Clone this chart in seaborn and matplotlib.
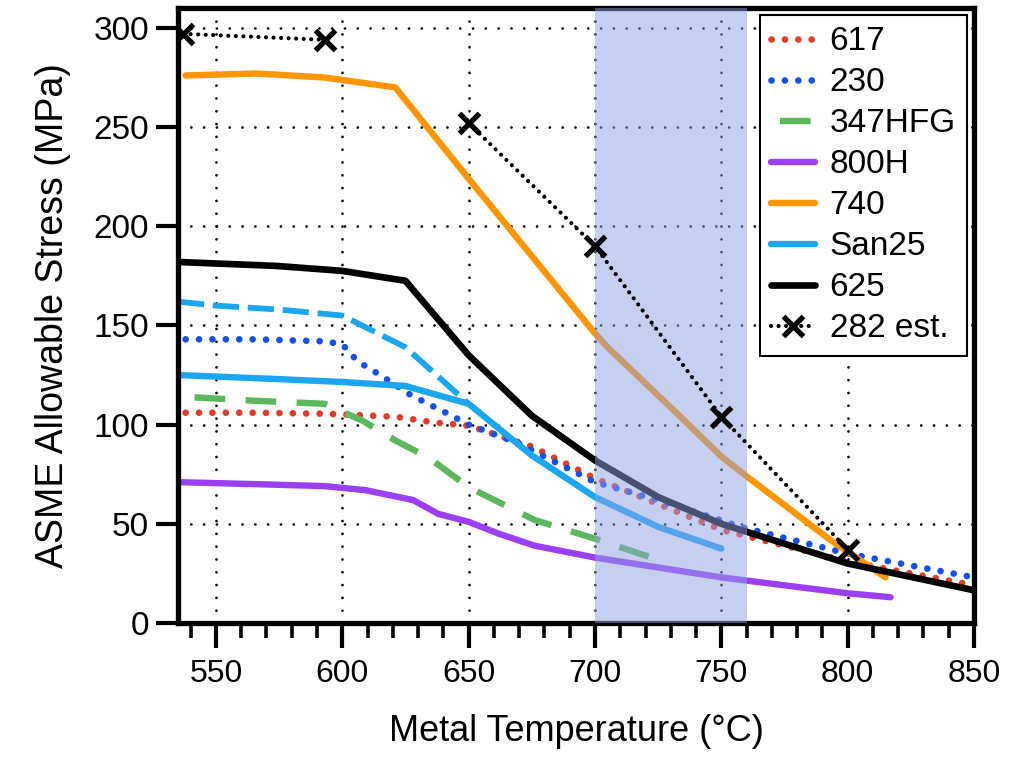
import matplotlib
matplotlib.use("Agg")
import matplotlib.pyplot as plt
import seaborn as sns
import numpy as np
from matplotlib.ticker import MultipleLocator

# ---- dane ----
t617 = [538, 566, 593, 621, 637, 650, 675, 700, 725, 750, 800, 850]
s617 = [106, 106, 105.5, 104, 101, 99.5, 89, 73, 60, 47, 31, 19]

t230 = [538, 566, 593, 600, 606, 615, 627, 641, 650, 669, 700, 725, 759, 800, 850]
s230 = [143, 143, 142, 140.5, 132, 125, 115, 106, 100, 91, 71, 62, 48, 35, 23]

t347 = [538, 566, 593, 608, 621, 634, 650, 676, 700, 727]
s347 = [114, 112, 110.5, 102, 92, 83.5, 68.5, 52, 42.5, 31]

t800 = [535, 566, 593, 609, 628, 638, 650, 662, 676, 700, 725, 750, 775, 800, 817]
s800 = [71, 70, 69, 67, 62, 55, 51, 45, 39, 33, 28, 23, 19, 15, 13]

t740 = [538, 566, 593, 621, 650, 700, 705, 733, 750, 760, 793, 815]
s740 = [276, 277, 275, 270, 224, 146, 139, 105, 84, 74, 42, 23]

t_san = [535, 574, 600, 625, 650, 675, 700, 725, 750]
s_san = [125, 123, 121.5, 119.5, 110.5, 84.5, 63.5, 48.5, 37.5]

t_san_d = [535, 550, 575, 600, 625, 650]
s_san_d = [162, 160, 158, 155, 139, 110.5]

t625 = [535, 574, 600, 625, 650, 675, 700, 725, 750, 800, 850]
s625 = [182, 180, 177.5, 172.5, 135, 104.5, 82, 63.5, 50, 30, 16.5]

t282_a = [537, 593]
s282_a = [297, 294]
t282_b = [650, 700, 750, 800]
s282_b = [252, 190, 104, 37]

span = (700, 760)

sns.set_style("ticks", rc={'axes.edgecolor': 'black', 'text.color': 'black',
                           'axes.labelcolor': 'black', 'xtick.color': 'black',
                           'ytick.color': 'black'})
plt.rcParams.update({
    'font.family': ['Liberation Sans', 'DejaVu Sans'],
    'ytick.left': True, 'ytick.direction': 'out',
    'ytick.major.size': 16, 'ytick.major.width': 3,
    'xtick.bottom': True, 'xtick.direction': 'out',
    'xtick.major.size': 18, 'xtick.major.width': 3,
    'xtick.minor.size': 11, 'xtick.minor.width': 2.6,
})

fig = plt.figure(figsize=(10.15, 7.65), dpi=100)
ax = fig.add_axes([0.1754, 0.1856, 0.7842, 0.8039])

dot = (0, (0.01, 2.0))

def line(x, y, **kw):
    sns.lineplot(x=x, y=y, ax=ax, sort=False, estimator=None, **kw)

line(t617, s617, color='#e53b2c', linewidth=4.8, linestyle=dot, dash_capstyle='round', label='617', zorder=2)
line(t230, s230, color='#1450f0', linewidth=4.8, linestyle=dot, dash_capstyle='round', label='230', zorder=2)
line(t347, s347, color='#5cb85c', linewidth=4.6, linestyle=(6.6, (4.8, 3.2)), label='347HFG', zorder=2)
line(t800, s800, color='#9b3ff5', linewidth=4.6, label='800H', zorder=2)
line(t740, s740, color='#ff9500', linewidth=4.6, label='740', zorder=2)
line(t_san, s_san, color='#1aa6f0', linewidth=4.6, label='San25', zorder=2)
line(t_san_d, s_san_d, color='#1aa6f0', linewidth=4.2, linestyle=(0, (4.5, 1.5)), zorder=2)
line(t625, s625, color='black', linewidth=4.8, label='625', zorder=2)

# pas 700-760 °C, rysowany nad liniami (półprzezroczysty)
ax.axvspan(*span, color='#91a1e5', alpha=0.5, lw=0, zorder=3)

x_kw = dict(color='black', linewidth=3.0, linestyle=(0, (0.01, 1.8)), dash_capstyle='round',
            marker='x', markersize=14, markeredgewidth=3.8, markeredgecolor='black', zorder=4)
line(t282_a, s282_a, **x_kw)
line(t282_b, s282_b, label='282 est.', **x_kw)

ax.set_xlim(535, 850)
ax.set_ylim(0, 310)
ax.set_xticks(np.arange(550, 851, 50))
ax.set_yticks(np.arange(0, 301, 50))
ax.xaxis.set_minor_locator(MultipleLocator(10))

ax.grid(True, which='major', color='black', lw=2.0, linestyle=(0, (0.01, 4.6)),
        dash_capstyle='round')
ax.set_axisbelow(True)

for s in ax.spines.values():
    s.set_linewidth(3.8)
    s.set_visible(True)

ax.set_xlabel('Metal Temperature (°C)', fontsize=26, labelpad=18)
ax.set_ylabel('ASME Allowable Stress (MPa)', fontsize=27, labelpad=16)

leg = ax.legend(loc='upper right', bbox_to_anchor=(1, 1), borderaxespad=0.2,
                fontsize=24, handlelength=1.3, handletextpad=0.45, labelspacing=0.3,
                borderpad=0.35, fancybox=False, framealpha=1)
leg.get_frame().set_edgecolor('black')
leg.get_frame().set_linewidth(1.5)
leg.set_zorder(6)

# parametry ticków na końcu, żeby nic ich nie nadpisało
ax.tick_params(axis='x', which='major', pad=8, labelsize=23, length=18, width=3,
               bottom=True, color='black')
ax.tick_params(axis='x', which='minor', length=11, width=2.6, bottom=True, color='black')
ax.tick_params(axis='y', which='major', pad=5, labelsize=24, length=16, width=3,
               left=True, color='black')
for tick in ax.yaxis.get_major_ticks() + ax.xaxis.get_major_ticks() + ax.xaxis.get_minor_ticks():
    tick.tick1line.set_visible(True)
    tick.tick1line.set_clip_on(False)
    tick.tick1line.set_markeredgecolor('black')
    tick.tick1line.set_zorder(10)

fig.savefig('out.png', dpi=100)
